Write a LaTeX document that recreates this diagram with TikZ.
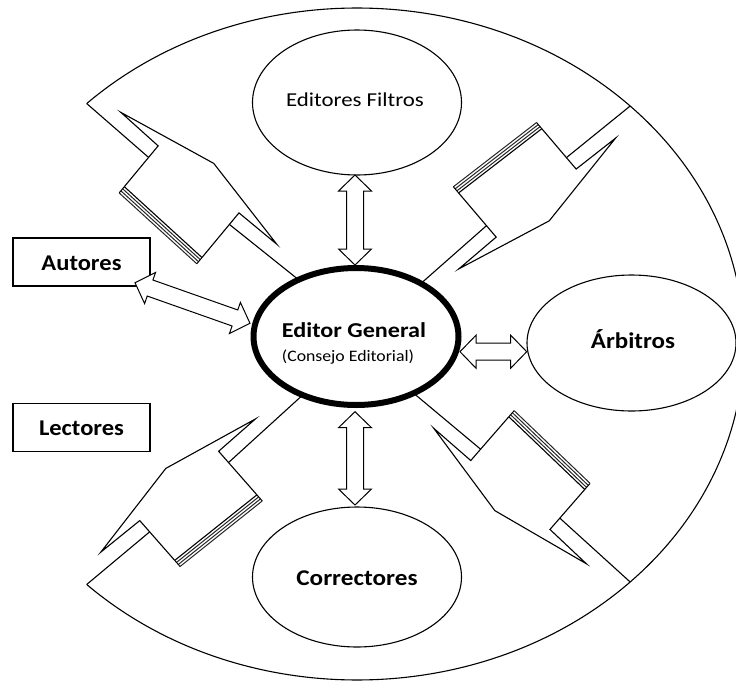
\documentclass[tikz,border=0pt]{standalone}
\usepackage{fontspec}
\usepackage{graphicx}
\setmainfont{Carlito}
\usetikzlibrary{calc,shapes.geometric}
\tikzset{
  ln/.style={line width=1.1pt, line join=miter},
  bub/.style={ellipse, draw, fill=white, line width=1.1pt, inner sep=0pt},
  box/.style={rectangle, draw, fill=white, line width=1.1pt, inner sep=0pt},
  lbl/.style={inner sep=0pt, anchor=base},
  darrow/.style={draw, fill=white, line width=1pt, line join=miter},
  pics/pipe/.style={code={
    \draw[ln] (0,0) -- ({#1+82},2);
    \draw[ln] ({#1+187},2) -- (300,0);
    \draw[ln] ({#1+82},40) -- ({#1+82},-13) -- ({#1+32},-15) -- ({#1+136},-35) -- ({#1+236},-13) -- ({#1+187},-13) -- ({#1+187},45);
    \draw[ln] ({#1+82},40) -- ({#1+187},45);
    \foreach \k in {2.7,5.4,8.1} \draw[line width=1pt, black!85] ({#1+82},{40+\k}) -- ({#1+187},{45+\k});
    \draw[line width=1pt] ({#1+82},40) -- ({#1+82},48.1) ({#1+187},45) -- ({#1+187},53.1);
  }}
}
\newcommand\dblarr[2]{%
 \draw[darrow] (#1) -- ($(#1)!16pt!(#2)!16.5pt!90:(#2)$) -- ($(#1)!16pt!(#2)!8.5pt!90:(#2)$) -- ($(#2)!16pt!(#1)!8.5pt!-90:(#1)$) -- ($(#2)!16pt!(#1)!16.5pt!-90:(#1)$) -- (#2) -- ($(#2)!16pt!(#1)!16.5pt!90:(#1)$) -- ($(#2)!16pt!(#1)!8.5pt!90:(#1)$) -- ($(#1)!16pt!(#2)!8.5pt!-90:(#2)$) -- ($(#1)!16pt!(#2)!16.5pt!-90:(#2)$) -- cycle;}
\newcommand\tx[3]{\scalebox{#1}[1]{\fontsize{#2}{#2}\selectfont #3}}
\begin{document}
\begin{tikzpicture}[x=1pt,y=-1pt]
\useasboundingbox (0,0) rectangle (736,683);
\fill[white] (0,0) rectangle (736,683);
\begin{scope}
\clip (0,0) rectangle (736,683);
\coordinate (O) at (357,344);
\coordinate (sTL) at ($(O)+(134.3:387pt and 336pt)$);
\coordinate (sTR) at ($(O)+(45.1:387pt and 336pt)$);
\coordinate (sBL) at ($(O)+(-134.3:387pt and 336pt)$);
\coordinate (sBR) at ($(O)+(-45.1:387pt and 336pt)$);
\draw[ln] (sTL) arc[start angle=134.3, end angle=-134.3, x radius=387pt, y radius=336pt];
\path (sTL) pic[rotate=-39.66]{pipe=0};
\path (sTR) pic[rotate=-139.6]{pipe=0};
\path (sBL) pic[rotate=41.3]{pipe=0};
\path (sBR) pic[rotate=138.97]{pipe=13};

\node[bub, minimum width=209pt, minimum height=145pt] (ef) at (357,102.5) {};
\node[bub, minimum width=209pt, minimum height=136pt] (arb) at (631.5,343) {};
\node[bub, minimum width=209pt, minimum height=140pt] (cor) at (357,577) {};
\node[ellipse, draw, fill=white, line width=6pt, inner sep=0pt, minimum width=205pt, minimum height=137pt] (eg) at (356,336.5) {};
\node[box, minimum width=137pt, minimum height=48pt] (aut) at (81.5,262) {};
\node[box, minimum width=137pt, minimum height=48pt] (lec) at (81.5,427.5) {};

\node[lbl] (eft) at (355,106.5) {\tx{1.16}{19.7}{Editores Filtros}};
\node[lbl] (arbt) at (633,348.5) {\tx{1.11}{22.5}{\bfseries Árbitros}};
\node[lbl] (cort) at (357,585) {\tx{1.12}{22.5}{\bfseries Correctores}};
\node[lbl, anchor=base west] (egt1) at (281.7,337) {\tx{1.14}{21.2}{\bfseries Editor General}};
\node[lbl, anchor=base west] (egt2) at (281.7,361) {\tx{1.11}{16}{(Consejo Editorial)}};
\node[lbl] (autt) at (81.5,270) {\tx{1.09}{22.5}{\bfseries Autores}};
\node[lbl] (lect) at (81.5,435.5) {\tx{1.09}{22.5}{\bfseries Lectores}};

\coordinate (a1) at (355,175);
\coordinate (a2) at (355,265);
\coordinate (b1) at (355,411.7);
\coordinate (b2) at (355,505);
\coordinate (c1) at (460,351.7);
\coordinate (c2) at (526.7,351.7);
\coordinate (d1) at (135,282.7);
\coordinate (d2) at (250,323.3);
\dblarr{a1}{a2}
\dblarr{b1}{b2}
\dblarr{c1}{c2}
\dblarr{d1}{d2}
\end{scope}
\end{tikzpicture}
\end{document}
